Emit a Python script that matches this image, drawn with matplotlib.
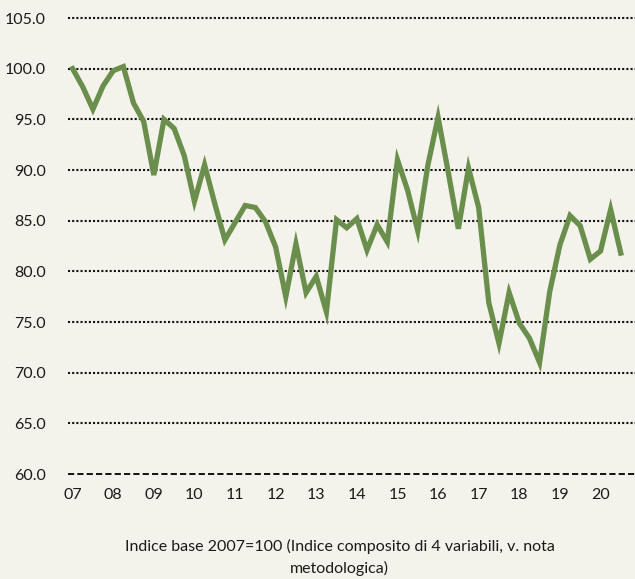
import numpy as np
import matplotlib.pyplot as plt
import matplotlib

matplotlib.rcParams.update({'font.size': 11.5, 'font.family': ['Lato', 'DejaVu Sans']})

# quarterly index, 2007 Q1 .. 2020 Q3
values = [100.0, 98.2, 96.0, 98.3, 99.8, 100.2, 96.6, 94.8,
          89.5, 95.0, 94.1, 91.4, 86.9, 90.5, 86.7, 83.1,
          84.8, 86.5, 86.3, 84.9, 82.4, 77.5, 82.7, 77.9,
          79.5, 76.0, 85.1, 84.3, 85.2, 82.1, 84.6, 82.9,
          91.0, 88.0, 84.0, 90.5, 95.2, 89.8, 84.2, 90.2,
          86.3, 76.9, 72.9, 77.9, 74.9, 73.4, 71.0, 78.0,
          82.6, 85.5, 84.5, 81.2, 82.0, 86.1, 81.8]
year_labels = ['07', '08', '09', '10', '11', '12', '13', '14', '15', '16', '17', '18', '19', '20']
y_ticks = [60, 65, 70, 75, 80, 85, 90, 95, 100, 105]
caption = 'Indice base 2007=100 (Indice composito di 4 variabili, v. nota\nmetodologica)'

bg = '#F4F3EB'
fig = plt.figure(figsize=(6.35, 5.79), dpi=100, facecolor=bg)
ax = fig.add_axes([0.107, 0.1813, 0.893, 0.7876], facecolor=bg)

x = np.arange(len(values))

for t in y_ticks:
    if t == 60:
        ax.axhline(t, color='#111111', lw=1.4, dashes=(3.2, 1.6), zorder=1, clip_on=False)
    else:
        ax.axhline(t, color='#111111', lw=1.5, dashes=(1, 1), zorder=1, clip_on=False)

ax.plot(x, values, color='#6A8E4B', lw=3.8, solid_joinstyle='miter', zorder=3)

ax.set_xlim(-0.46, 55.4)
ax.set_ylim(60, 105)
ax.set_yticks(y_ticks)
ax.set_yticklabels(['%.1f' % t for t in y_ticks])
ax.set_xticks(np.arange(0, 4 * len(year_labels), 4))
ax.set_xticklabels(year_labels)
ax.tick_params(axis='both', length=0, colors='#1a1a1a')
ax.tick_params(axis='y', pad=16)
ax.tick_params(axis='x', pad=10)

for s in ax.spines.values():
    s.set_visible(False)

fig.text(0.535, 0.005, caption, ha='center', va='bottom', fontsize=11.5,
         color='#1a1a1a', linespacing=1.6)

fig.savefig('out.png', dpi=100, facecolor=bg)
